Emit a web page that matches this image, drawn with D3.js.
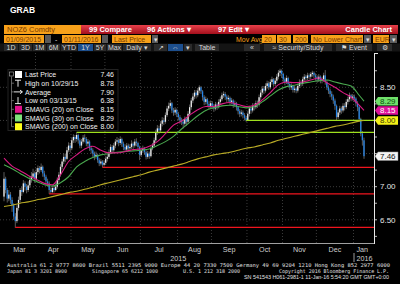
<!DOCTYPE html>
<html>
<head>
<meta charset="utf-8">
<script src="https://cdn.jsdelivr.net/npm/d3@7"></script>
<style>
  html, body { margin: 0; padding: 0; background: #000; }
  svg { display: block; font-family: "Liberation Sans", Arial, sans-serif; }
</style>
</head>
<body>
<svg id="chart" width="400" height="284"></svg>
<script>
// daily candles, weekdays from 4 Mar 2015 to 11 Jan 2016
const startDay = new Date(2015, 2, 4), endDay = new Date(2016, 0, 12);
const firstOpen = 6.85;

const closes = [
  7.12, 6.95, 6.82, 6.88, 6.80, 6.72, 6.55, 6.48, 6.68, 6.80, 6.95, 6.92, 7.05, 7.00, 6.95, 7.02, 7.10, 7.15, 7.20, 7.12,
  7.22, 7.28, 7.25, 7.30, 7.20, 7.15, 7.08, 7.05, 6.95, 6.92, 6.98, 6.95, 7.00, 7.10, 7.18, 7.30, 7.38, 7.45, 7.42, 7.55, 7.62, 7.58,
  7.70, 7.75, 7.72, 7.78, 7.70, 7.62, 7.68, 7.74, 7.72, 7.65, 7.68, 7.58, 7.55, 7.50, 7.45, 7.48, 7.40, 7.35, 7.38, 7.33, 7.36,
  7.42, 7.45, 7.52, 7.60, 7.55, 7.62, 7.68, 7.70, 7.66, 7.72, 7.65, 7.60, 7.56, 7.62, 7.58, 7.60, 7.65, 7.62, 7.68, 7.66, 7.60, 7.48,
  7.55, 7.58, 7.52, 7.45, 7.50, 7.46, 7.58, 7.62, 7.70, 7.82, 7.88, 7.85, 7.95, 8.00, 7.98, 8.08, 8.18, 8.22, 8.26, 8.15, 8.12, 8.16, 8.10,
  8.05, 8.00, 7.98, 7.95, 8.02, 7.98, 8.10, 8.20, 8.30, 8.36, 8.42, 8.38, 8.45, 8.50, 8.44, 8.35, 8.28, 8.32, 8.25, 8.22, 8.26,
  8.22, 8.18, 8.24, 8.20, 8.28, 8.32, 8.38, 8.40, 8.36, 8.32, 8.34, 8.28, 8.30, 8.24, 8.26, 8.20, 8.14, 8.10, 8.12, 8.08, 8.04, 8.00,
  8.10, 8.18, 8.15, 8.22, 8.20, 8.26, 8.24, 8.35, 8.42, 8.48, 8.45, 8.52, 8.56, 8.50, 8.58, 8.62, 8.55, 8.60, 8.66, 8.72, 8.75, 8.70,
  8.62, 8.58, 8.64, 8.55, 8.50, 8.52, 8.46, 8.48, 8.45, 8.52, 8.58, 8.55, 8.62, 8.66, 8.64, 8.68, 8.66, 8.70, 8.72, 8.68, 8.65,
  8.62, 8.66, 8.60, 8.62, 8.68, 8.58, 8.50, 8.45, 8.40, 8.36, 8.30, 8.22, 8.05, 8.12, 8.18, 8.15, 8.22, 8.20, 8.28, 8.32, 8.38, 8.34, 8.36,
  8.33, 8.26, 8.20, 8.02, 7.80, 7.70, 7.46
];

const highs = [
  7.22, 7.15, 6.98, 6.95, 6.92, 6.84, 6.75, 6.60, 6.72, 6.85, 6.98, 7.00, 7.10, 7.08, 7.04, 7.08, 7.16, 7.22, 7.27, 7.23,
  7.28, 7.32, 7.31, 7.35, 7.32, 7.24, 7.18, 7.12, 7.08, 6.99, 7.02, 7.03, 7.05, 7.14, 7.22, 7.34, 7.42, 7.50, 7.50, 7.60, 7.67, 7.66,
  7.74, 7.79, 7.78, 7.82, 7.80, 7.73, 7.72, 7.78, 7.79, 7.75, 7.72, 7.70, 7.62, 7.58, 7.53, 7.53, 7.50, 7.43, 7.42, 7.40, 7.40,
  7.46, 7.50, 7.56, 7.64, 7.63, 7.66, 7.72, 7.75, 7.73, 7.76, 7.74, 7.68, 7.64, 7.66, 7.65, 7.64, 7.70, 7.68, 7.72, 7.73, 7.68, 7.62,
  7.59, 7.62, 7.60, 7.55, 7.54, 7.53, 7.61, 7.66, 7.74, 7.86, 7.93, 7.92, 7.99, 8.05, 8.04, 8.12, 8.22, 8.27, 8.31, 8.28, 8.19, 8.20, 8.18,
  8.13, 8.08, 8.04, 8.02, 8.06, 8.05, 8.14, 8.24, 8.34, 8.41, 8.46, 8.46, 8.49, 8.53, 8.52, 8.46, 8.38, 8.36, 8.34, 8.29, 8.30,
  8.29, 8.25, 8.28, 8.27, 8.32, 8.36, 8.42, 8.44, 8.43, 8.39, 8.38, 8.36, 8.34, 8.32, 8.30, 8.28, 8.22, 8.17, 8.16, 8.15, 8.11, 8.07,
  8.14, 8.22, 8.21, 8.26, 8.26, 8.30, 8.30, 8.39, 8.46, 8.52, 8.52, 8.56, 8.60, 8.59, 8.62, 8.66, 8.64, 8.64, 8.70, 8.76, 8.78, 8.77,
  8.72, 8.65, 8.68, 8.66, 8.58, 8.56, 8.54, 8.52, 8.51, 8.56, 8.62, 8.61, 8.66, 8.70, 8.69, 8.72, 8.71, 8.73, 8.75, 8.74, 8.71,
  8.68, 8.70, 8.68, 8.66, 8.72, 8.76, 8.61, 8.53, 8.48, 8.44, 8.39, 8.33, 8.24, 8.16, 8.22, 8.21, 8.26, 8.26, 8.32, 8.36, 8.42, 8.40, 8.40,
  8.39, 8.35, 8.29, 8.22, 8.04, 7.84, 7.74
];

const lows = [
  6.78, 6.90, 6.76, 6.78, 6.74, 6.62, 6.50, 6.38, 6.45, 6.64, 6.76, 6.86, 6.90, 6.94, 6.90, 6.92, 6.98, 7.06, 7.12, 7.06,
  7.08, 7.18, 7.20, 7.22, 7.15, 7.10, 7.02, 7.00, 6.89, 6.89, 6.90, 6.91, 6.93, 6.97, 7.06, 7.15, 7.26, 7.34, 7.37, 7.40, 7.52, 7.52,
  7.55, 7.66, 7.66, 7.68, 7.65, 7.58, 7.58, 7.65, 7.67, 7.61, 7.60, 7.54, 7.50, 7.45, 7.40, 7.42, 7.36, 7.31, 7.32, 7.29, 7.30,
  7.33, 7.38, 7.42, 7.49, 7.51, 7.52, 7.58, 7.64, 7.61, 7.63, 7.60, 7.55, 7.52, 7.53, 7.54, 7.54, 7.57, 7.57, 7.59, 7.61, 7.54, 7.40,
  7.45, 7.51, 7.48, 7.41, 7.42, 7.42, 7.44, 7.55, 7.59, 7.67, 7.78, 7.80, 7.82, 7.91, 7.93, 7.95, 8.05, 8.14, 8.18, 8.11, 8.07, 8.08, 8.05,
  8.00, 7.95, 7.93, 7.88, 7.92, 7.92, 7.95, 8.06, 8.16, 8.26, 8.32, 8.33, 8.35, 8.41, 8.40, 8.30, 8.23, 8.24, 8.20, 8.17, 8.18,
  8.17, 8.13, 8.15, 8.16, 8.18, 8.24, 8.29, 8.34, 8.31, 8.27, 8.28, 8.23, 8.24, 8.19, 8.20, 8.15, 8.09, 8.05, 8.06, 8.03, 8.00, 7.98,
  7.99, 8.06, 8.10, 8.12, 8.15, 8.17, 8.19, 8.21, 8.31, 8.38, 8.40, 8.42, 8.48, 8.46, 8.47, 8.54, 8.51, 8.52, 8.56, 8.62, 8.67, 8.64,
  8.58, 8.53, 8.55, 8.51, 8.46, 8.46, 8.42, 8.42, 8.41, 8.42, 8.49, 8.51, 8.52, 8.58, 8.60, 8.61, 8.62, 8.62, 8.66, 8.64, 8.60,
  8.57, 8.58, 8.56, 8.56, 8.58, 8.54, 8.46, 8.40, 8.35, 8.31, 8.25, 8.16, 8.00, 8.02, 8.08, 8.10, 8.12, 8.15, 8.17, 8.24, 8.28, 8.29, 8.30,
  8.28, 8.21, 8.14, 7.98, 7.76, 7.62, 7.42
];

// moving averages (last point = last bar)
const smaBars = d3.range(0, 221, 5).concat([223]);
const sma20 = [7.43, 7.31, 7.24, 7.17, 7.11, 7.05, 7.03, 7.18, 7.38, 7.48, 7.57, 7.61, 7.55, 7.51, 7.51, 7.53,
  7.56, 7.57, 7.61, 7.68, 7.80, 7.93, 7.99, 8.08, 8.16, 8.21, 8.21, 8.25, 8.27, 8.24, 8.21, 8.23,
  8.31, 8.42, 8.54, 8.58, 8.57, 8.58, 8.61, 8.64, 8.57, 8.50, 8.42, 8.35, 8.23, 8.15];
const sma30 = [7.33, 7.27, 7.20, 7.13, 7.08, 7.03, 7.01, 7.06, 7.15, 7.30, 7.38, 7.44, 7.48, 7.50, 7.52, 7.53,
  7.54, 7.55, 7.57, 7.62, 7.68, 7.76, 7.87, 7.97, 8.07, 8.15, 8.19, 8.22, 8.23, 8.21, 8.19, 8.21,
  8.28, 8.37, 8.46, 8.51, 8.53, 8.56, 8.58, 8.60, 8.61, 8.58, 8.55, 8.52, 8.38, 8.29];
const sma200 = [6.70, 6.72, 6.75, 6.77, 6.80, 6.82, 6.85, 6.88, 6.91, 6.93, 6.96, 6.99, 7.03, 7.06, 7.09, 7.12,
  7.15, 7.18, 7.22, 7.25, 7.28, 7.31, 7.34, 7.38, 7.42, 7.45, 7.48, 7.50, 7.52, 7.55, 7.58, 7.60,
  7.63, 7.66, 7.70, 7.73, 7.76, 7.79, 7.82, 7.85, 7.88, 7.91, 7.93, 7.96, 7.99, 8.00];

// horizontal trend lines: level and the bar they start from
const levelValues = [8.00, 7.82, 7.29, 6.89, 6.385];
const levelStart = [150, 45, 61, 28, 7];
const levelKind = ["res", "res", "sup", "sup", "sup"];

const priceTicks = [6.25, 6.5, 6.75, 7.0, 7.25, 7.5, 7.75, 8.0, 8.25, 8.5, 8.75];
const priceLabels = [6.5, 7.0, 7.5, 8.0, 8.5];
const monthNames = ["Mar", "Apr", "May", "Jun", "Jul", "Aug", "Sep", "Oct", "Nov", "Dec", "Jan"];

const legendLabels = ["Last Price", "High on 10/29/15", "Average", "Low on 03/13/15",
  "SMAVG (20) on Close", "SMAVG (30) on Close", "SMAVG (200) on Close"];
const legendValues = ["7.46", "8.78", "7.90", "6.38", "8.15", "8.29", "8.00"];
const tagValues = [8.29, 8.15, 8.00, 7.46];

const C = {
  up: "#ececec", down: "#2585e8", wick: "#9a9a9a",
  sma20: "#d81b82", sma30: "#4aa94f", sma200: "#b9ab26",
  res: "#9fe01e", sup: "#f0141e", grid: "#4a4a4a",
  orange: "#f7a11a", orangeText: "#7a3b00"
};

const svg = d3.select("#chart");
svg.append("rect").attr("width", 400).attr("height", 284).attr("fill", "#000");

const days = d3.timeDay.range(startDay, endDay).filter(d => d.getDay() !== 0 && d.getDay() !== 6);
const bars = closes.map((c, i) => {
  const o = i ? closes[i - 1] : firstOpen;
  return { i, date: days[i], o, c, h: Math.max(highs[i], o, c), l: Math.min(lows[i], o, c) };
});

const plot = { left: 0, right: 374, top: 53, bottom: 243 };
const x = d3.scaleLinear().domain([0, closes.length - 1]).range([4, 364]);
const y = d3.scaleLinear().domain([6.5, 8.5]).range([219.8, 87.3]);

// ---------- header ----------
const head = svg.append("g").attr("class", "header");
head.append("text").attr("x", 10).attr("y", 13).attr("fill", "#fff")
  .attr("font-size", 8.5).attr("font-weight", "bold").text("GRAB");

const defs = svg.append("defs");
const red = defs.append("linearGradient").attr("id", "redbar").attr("x1", 0).attr("x2", 0).attr("y1", 0).attr("y2", 1);
red.append("stop").attr("offset", 0).attr("stop-color", "#e8404a");
red.append("stop").attr("offset", 1).attr("stop-color", "#a30f1c");

head.append("rect").attr("x", 4).attr("y", 25).attr("width", 77).attr("height", 9).attr("fill", C.orange);
head.append("text").attr("x", 7).attr("y", 32.3).attr("font-size", 7.5).attr("fill", C.orangeText).text("NOZ6 Comdty");
head.append("rect").attr("x", 81).attr("y", 25).attr("width", 317).attr("height", 9).attr("fill", "url(#redbar)");
[[89, "99 Compare"], [147, "96 Actions \u25BE"], [218, "97 Edit \u25BE"]].forEach(([tx, t]) => {
  head.append("text").attr("x", tx).attr("y", 32.3).attr("font-size", 7.5).attr("font-weight", "bold")
    .attr("fill", "#fff").text(t);
});
head.append("text").attr("x", 392).attr("y", 32.3).attr("font-size", 7.5).attr("font-weight", "bold")
  .attr("text-anchor", "end").attr("fill", "#fff").text("Candle Chart");

function field(bx, bw, t, fill) {
  head.append("rect").attr("x", bx).attr("y", 35).attr("width", bw).attr("height", 8).attr("fill", fill || C.orange);
  if (t) head.append("text").attr("x", bx + 2).attr("y", 41.6).attr("font-size", 7)
    .attr("fill", fill ? "#ddd" : C.orangeText).text(t);
}
field(4, 40, "01/09/2015"); field(45, 6, "", "#5a5a5a");
head.append("text").attr("x", 55).attr("y", 41.6).attr("font-size", 7).attr("fill", "#ddd").text("-");
field(62, 39, "01/11/2016"); field(102, 6, "", "#5a5a5a");
field(112, 39, "Last Price"); field(152, 6, "\u25BE", "#5a5a5a");
head.append("text").attr("x", 236).attr("y", 41.6).attr("font-size", 7).attr("fill", C.orange).text("Mov Avg");
field(262, 14, "20"); field(277, 14, "30"); field(293, 15, "200");
field(311, 52, "No Lower Chart"); field(364, 7, "\u25BE", "#5a5a5a");
field(373, 16, "EUR"); field(390, 7, "\u25BE", "#5a5a5a");

head.append("rect").attr("x", 0).attr("y", 43.5).attr("width", 400).attr("height", 8).attr("fill", "#141414");
const tools = [
  { t: "1D", x: 4, w: 14 }, { t: "3D", x: 19, w: 13 }, { t: "1M", x: 33, w: 13 }, { t: "6M", x: 47, w: 13 },
  { t: "YTD", x: 61, w: 16 }, { t: "1Y", x: 78, w: 15, on: true }, { t: "5Y", x: 94, w: 12 },
  { t: "Max", x: 107, w: 15 }, { t: "Daily \u25BE", x: 123, w: 28 }, { t: "\u2197", x: 154, w: 13 },
  { t: "\u21D4", x: 168, w: 15, on: true }, { t: "\u25BE", x: 184, w: 8 }, { t: "Table", x: 195, w: 24 },
  { t: "\u00AB", x: 244, w: 16 }, { t: "\u2248 Security/Study", x: 264, w: 68 },
  { t: "\u2691 Event", x: 336, w: 36 }, { t: "\u2699", x: 377, w: 15 }
];
tools.forEach(b => {
  head.append("rect").attr("x", b.x).attr("y", 44).attr("width", b.w).attr("height", 7)
    .attr("fill", b.on ? "#1d4f8e" : "#2b2b2b");
  head.append("text").attr("x", b.x + b.w / 2).attr("y", 50).attr("text-anchor", "middle")
    .attr("font-size", 7).attr("fill", "#d8d8d8").text(b.t);
});

// ---------- plot ----------
defs.append("clipPath").attr("id", "plotclip").append("rect")
  .attr("x", plot.left).attr("y", plot.top).attr("width", plot.right - plot.left).attr("height", plot.bottom - plot.top);
const g = svg.append("g").attr("clip-path", "url(#plotclip)");

// grid
g.selectAll("line.hgrid").data(priceLabels).join("line").attr("class", "hgrid")
  .attr("x1", plot.left).attr("x2", plot.right).attr("y1", d => y(d)).attr("y2", d => y(d))
  .attr("stroke", C.grid).attr("stroke-width", 0.8).attr("stroke-dasharray", "1,2");

const months = d3.groups(bars, d => d3.timeMonth(d.date).getTime());
g.selectAll("line.vgrid").data(months.slice(1)).join("line").attr("class", "vgrid")
  .attr("x1", d => x(d[1][0].i - 0.5)).attr("x2", d => x(d[1][0].i - 0.5))
  .attr("y1", plot.top).attr("y2", plot.bottom)
  .attr("stroke", C.grid).attr("stroke-width", 0.8).attr("stroke-dasharray", "1,2");

// candles
const bw = 1.3;
g.selectAll("line.wick").data(bars).join("line").attr("class", "wick")
  .attr("x1", d => x(d.i)).attr("x2", d => x(d.i))
  .attr("y1", d => y(d.h)).attr("y2", d => y(d.l))
  .attr("stroke", C.wick).attr("stroke-width", 0.6);
g.selectAll("rect.body").data(bars).join("rect").attr("class", "body")
  .attr("x", d => x(d.i) - bw / 2).attr("width", bw)
  .attr("y", d => y(Math.max(d.o, d.c)))
  .attr("height", d => Math.max(0.8, Math.abs(y(d.o) - y(d.c))))
  .attr("fill", d => d.c >= d.o ? C.up : C.down);

// trend levels
g.selectAll("line.level").data(levelValues).join("line").attr("class", "level")
  .attr("x1", (d, k) => x(levelStart[k])).attr("x2", plot.right)
  .attr("y1", d => y(d)).attr("y2", d => y(d))
  .attr("stroke", (d, k) => C[levelKind[k]]).attr("stroke-width", 1.3);

// moving averages
const maLine = d3.line().x((v, k) => x(smaBars[k])).y(v => y(v)).curve(d3.curveMonotoneX);
[[sma200, C.sma200], [sma30, C.sma30], [sma20, C.sma20]].forEach(([s, col]) => {
  g.append("path").attr("d", maLine(s)).attr("fill", "none").attr("stroke", col).attr("stroke-width", 1.1);
});

// axes
svg.append("line").attr("x1", 0).attr("x2", plot.right).attr("y1", plot.bottom + 0.5).attr("y2", plot.bottom + 0.5)
  .attr("stroke", "#a0a0a0").attr("stroke-width", 1.2);
svg.append("line").attr("x1", plot.right + 0.5).attr("x2", plot.right + 0.5).attr("y1", plot.top).attr("y2", plot.bottom + 1)
  .attr("stroke", "#e8e8e8").attr("stroke-width", 1);
svg.append("line").attr("x1", plot.right).attr("x2", plot.right + 4).attr("y1", plot.top + 0.5).attr("y2", plot.top + 0.5)
  .attr("stroke", "#e8e8e8");
svg.selectAll("line.ytick").data(priceTicks).join("line").attr("class", "ytick")
  .attr("x1", plot.right).attr("x2", plot.right + 3).attr("y1", d => y(d)).attr("y2", d => y(d))
  .attr("stroke", "#e8e8e8").attr("stroke-width", 0.8);
// labels hidden behind a value tag are left out, as on the terminal
const shownLabels = priceLabels.filter(v => tagValues.every(t => Math.abs(y(t) - y(v)) > 8));
svg.selectAll("text.ylab").data(shownLabels).join("text").attr("class", "ylab")
  .attr("x", 380).attr("y", d => y(d) + 2.8).attr("font-size", 8).attr("fill", "#e6e6e6")
  .text(d => d3.format(".2f")(d));

// month labels
const fmtMonth = d3.timeFormat("%b");
months.forEach(([key, arr], k) => {
  const isJan = arr[0].date.getMonth() === 0;
  const mx = isJan ? x(arr[0].i - 0.5) + 3 : d3.mean(arr, d => x(d.i));
  svg.append("text").attr("x", mx).attr("y", 252).attr("font-size", 7.2)
    .attr("text-anchor", isJan ? "start" : "middle").attr("fill", "#cfcfcf")
    .text(monthNames[k] || fmtMonth(arr[0].date));
});
const yearBreak = x(bars.find(d => d.date.getFullYear() === 2016).i - 0.5);
const bars2015 = bars.filter(d => d.date.getFullYear() === 2015);
svg.append("text").attr("x", d3.mean(bars2015, d => x(d.i))).attr("y", 260.5).attr("font-size", 7.2)
  .attr("text-anchor", "middle").attr("fill", "#cfcfcf").text("2015");
svg.append("text").attr("x", yearBreak + 3).attr("y", 260.5).attr("font-size", 7.2)
  .attr("fill", "#cfcfcf").text("2016");
svg.append("line").attr("x1", yearBreak + 0.5).attr("x2", yearBreak + 0.5).attr("y1", 253).attr("y2", 262)
  .attr("stroke", "#9a9a9a");

// ---------- legend ----------
const lg = svg.append("g");
lg.append("rect").attr("x", 8).attr("y", 69.5).attr("width", 110).attr("height", 61)
  .attr("fill", "#000").attr("stroke", "#222");
const rowY = k => 74.5 + k * 8.7;
lg.append("line").attr("x1", 11.5).attr("x2", 11.5).attr("y1", rowY(0) + 2).attr("y2", rowY(6))
  .attr("stroke", "#8a8a8a").attr("stroke-width", 0.7);
lg.append("rect").attr("x", 9.5).attr("y", rowY(0) - 2.5).attr("width", 4).attr("height", 4)
  .attr("fill", "#000").attr("stroke", "#aaa").attr("stroke-width", 0.6);
d3.range(1, 7).forEach(k => lg.append("line").attr("x1", 11.5).attr("x2", 14).attr("y1", rowY(k)).attr("y2", rowY(k))
  .attr("stroke", "#8a8a8a").attr("stroke-width", 0.7));
const swatch = ["#fff", null, null, null, "#e0118b", "#7ee27a", "#ffff1a"];
swatch.forEach((col, k) => {
  if (col) lg.append("rect").attr("x", 15).attr("y", rowY(k) - 3.5).attr("width", 7).attr("height", 7).attr("fill", col);
});
// high / average / low glyphs
lg.append("path").attr("d", `M15,${rowY(1) - 3}H21M18,${rowY(1) - 3}V${rowY(1) + 3.5}`)
  .attr("stroke", "#fff").attr("fill", "none").attr("stroke-width", 0.9);
lg.append("path").attr("d", `M14,${rowY(2)}H22M20,${rowY(2) - 1.8}L22.5,${rowY(2)}L20,${rowY(2) + 1.8}`)
  .attr("stroke", "#fff").attr("fill", "none").attr("stroke-width", 0.9);
lg.append("path").attr("d", `M18,${rowY(3) - 3.5}V${rowY(3) + 3}M15,${rowY(3) + 3}H21`)
  .attr("stroke", "#fff").attr("fill", "none").attr("stroke-width", 0.9);
legendLabels.forEach((t, k) => {
  lg.append("text").attr("x", 25).attr("y", rowY(k) + 2.6).attr("font-size", 7).attr("fill", "#f2f2f2").text(t);
  lg.append("text").attr("x", 114).attr("y", rowY(k) + 2.6).attr("font-size", 7).attr("text-anchor", "end")
    .attr("fill", "#f2f2f2").text(legendValues[k]);
});

// ---------- value tags on the price axis ----------
const tagFill = ["#6fe06a", "#e0119a", "#f4f018", "#f4f4f4"];
const tagText = ["#0b4d0b", "#ffffff", "#3a3a00", "#111111"];
tagValues.forEach((v, k) => {
  const ty = y(v), h = 8.6;
  svg.append("path")
    .attr("d", `M${plot.right + 1},${ty}L${plot.right + 4},${ty - h / 2}H398V${ty + h / 2}H${plot.right + 4}Z`)
    .attr("fill", tagFill[k]).attr("stroke", k === 3 ? "#888" : "none").attr("stroke-width", 0.5);
  svg.append("text").attr("x", 380).attr("y", ty + 2.8).attr("font-size", 8).attr("fill", tagText[k])
    .text(d3.format(".2f")(v));
});

// ---------- footer ----------
const foot = svg.append("g").attr("font-family", "'DejaVu Sans Mono', monospace").attr("font-size", 5.2)
  .attr("fill", "#e0e0e0");
foot.append("text").attr("x", 7).attr("y", 266.5).attr("textLength", 383).attr("lengthAdjust", "spacingAndGlyphs")
  .text("Australia 61 2 9777 8600 Brazil 5511 2395 9000 Europe 44 20 7330 7500 Germany 49 69 9204 1210 Hong Kong 852 2977 6000");
[[7, 60, "Japan 81 3 3201 8900"], [92, 66, "Singapore 65 6212 1000"], [183, 57, "U.S. 1 212 318 2000"],
 [279, 110, "Copyright 2016 Bloomberg Finance L.P."]].forEach(([fx, fw, t]) => {
  foot.append("text").attr("x", fx).attr("y", 272.5).attr("textLength", fw).attr("lengthAdjust", "spacingAndGlyphs").text(t);
});
foot.append("text").attr("x", 244).attr("y", 278.5).attr("font-family", "'Liberation Sans', Arial, sans-serif")
  .attr("font-size", 5.3).attr("textLength", 145).attr("lengthAdjust", "spacingAndGlyphs")
  .text("SN 541543 H061-2981-1 11-Jan-16 5:54:20 GMT GMT+0:00");
</script>
</body>
</html>
